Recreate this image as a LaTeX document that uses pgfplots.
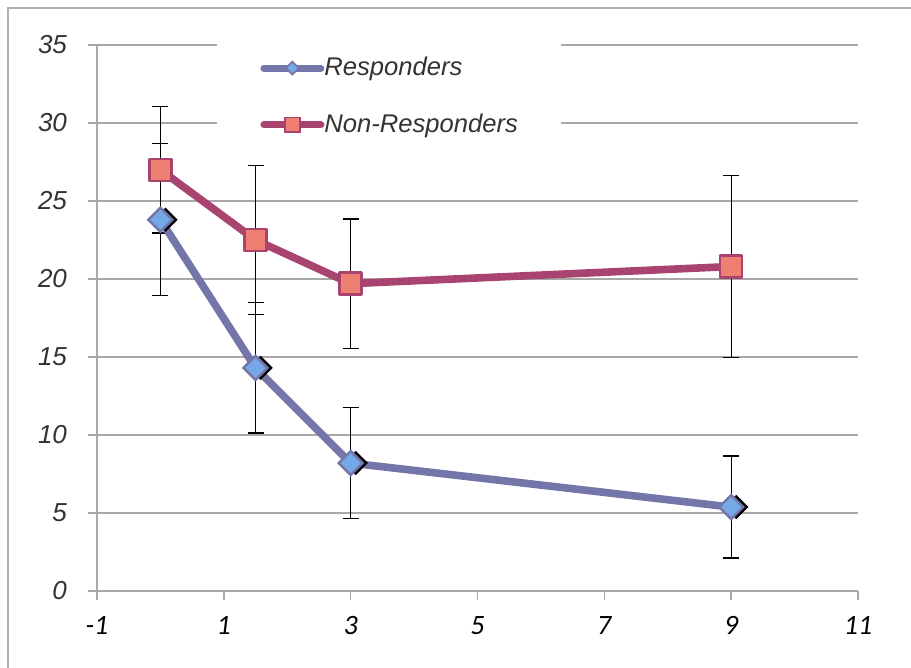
\documentclass[border=0pt]{standalone}
\usepackage{pgfplots}
\pgfplotsset{compat=1.18}
\usepackage{fontspec}
\setmainfont{Liberation Sans}
\newfontfamily\carlito{Carlito}
\definecolor{gridgray}{HTML}{A8A8A8}
\definecolor{framegray}{HTML}{B0B0B0}
\definecolor{respline}{HTML}{7476A9}
\definecolor{respfill}{HTML}{74A8E6}
\definecolor{nrline}{HTML}{A8446F}
\definecolor{nrfill}{HTML}{F07F73}
\definecolor{labelgray}{HTML}{333333}
\begin{document}
\begin{tikzpicture}
\path[use as bounding box] (-48.5pt,-38.5pt) rectangle (407pt,295.5pt);
\draw[framegray, line width=0.8pt] (-44.5pt,-38.5pt) -- (-44.5pt,291.5pt) -- (407pt,291.5pt);
\begin{axis}[
  at={(0pt,0pt)}, anchor=south west,
  scale only axis, width=380.5pt, height=273pt,
  xmin=-1, xmax=11, ymin=0, ymax=35,
  xtick={-1,1,...,11}, ytick={0,5,...,35},
  axis x line*=bottom, axis y line*=left,
  axis line style={gridgray, line width=0.8pt, -},
  ymajorgrids, grid style={gridgray, line width=0.8pt},
  tick style={gridgray, line width=0.8pt},
  tick align=outside, major tick length=4.5pt,
  /pgf/number format/assume math mode=true,
  yticklabel style={font=\fontsize{13}{15}\selectfont\itshape, text=labelgray, xshift=-7pt},
  xticklabel style={font=\carlito\fontsize{14}{16}\selectfont\itshape, text=black, yshift=-4.5pt},
  legend style={at={(0.1577,1.0165)}, anchor=north west, draw=none, fill=white,
    inner xsep=21.5pt, inner ysep=10.5pt, row sep=17.5pt, column sep=0pt,
    nodes={inner sep=0pt},
    font=\fontsize{12.8}{15}\selectfont\itshape, text=labelgray},
  legend cell align=left,
  legend image code/.code={
    \draw[#1, line cap=round] (0pt,0pt) -- (28.5pt,0pt);
    \draw[#1, mark repeat=2, mark phase=2] plot coordinates {(0pt,0pt) (14.25pt,0pt) (28.5pt,0pt)};
  },
  clip=false,
]
% error bars
\addplot[draw=none, forget plot, mark=none,
  error bars/.cd, y dir=both, y explicit,
  error bar style={black, line width=0.6pt},
  error mark options={black, rotate=90, mark size=4pt, line width=0.6pt}]
  coordinates {(0,27.0) +- (0,4.05) (1.5,22.5) +- (0,4.8) (3,19.7) +- (0,4.14) (9,20.8) +- (0,5.83)};
\addplot[draw=none, forget plot, mark=none,
  error bars/.cd, y dir=both, y explicit,
  error bar style={black, line width=0.6pt},
  error mark options={black, rotate=90, mark size=4pt, line width=0.6pt}]
  coordinates {(0,23.8) +- (0,4.87) (1.5,14.3) +- (0,4.17) (3,8.2) +- (0,3.55) (9,5.38) +- (0,3.27)};
% Non-Responders
\addplot[nrline, line width=3.8pt, line join=round, forget plot,
  mark=square*, mark options={fill=nrfill, draw=nrline, line width=1.2pt, mark size=5.5pt}]
  coordinates {(0,27.0) (1.5,22.5) (3,19.7) (9,20.8)};
% Responders line
\addplot[respline, line width=3.8pt, line join=round, mark=none, forget plot]
  coordinates {(0,23.8) (1.5,14.3) (3,8.2) (9,5.38)};
% Responders shadow
\addplot[only marks, forget plot, mark=square*,
  mark options={fill=black, draw=black, rotate=45, mark size=4.1pt, xshift=1.8pt, yshift=-1.8pt}]
  coordinates {(0,23.8) (1.5,14.3) (3,8.2) (9,5.38)};
% Responders marks
\addplot[only marks, forget plot, mark=square*,
  mark options={fill=respfill, draw=respline, line width=1.2pt, rotate=45, mark size=4.25pt}]
  coordinates {(0,23.8) (1.5,14.3) (3,8.2) (9,5.38)};
\addlegendimage{respline, line width=3.5pt, mark=square*, mark options={fill=respfill, draw=respline, line width=0.8pt, rotate=45, mark size=2.3pt}}
\addlegendentry{Responders}
\addlegendimage{nrline, line width=3.5pt, mark=square*, mark options={fill=nrfill, draw=nrline, line width=0.8pt, mark size=3.7pt}}
\addlegendentry{Non-Responders}
\end{axis}
\end{tikzpicture}
\end{document}
